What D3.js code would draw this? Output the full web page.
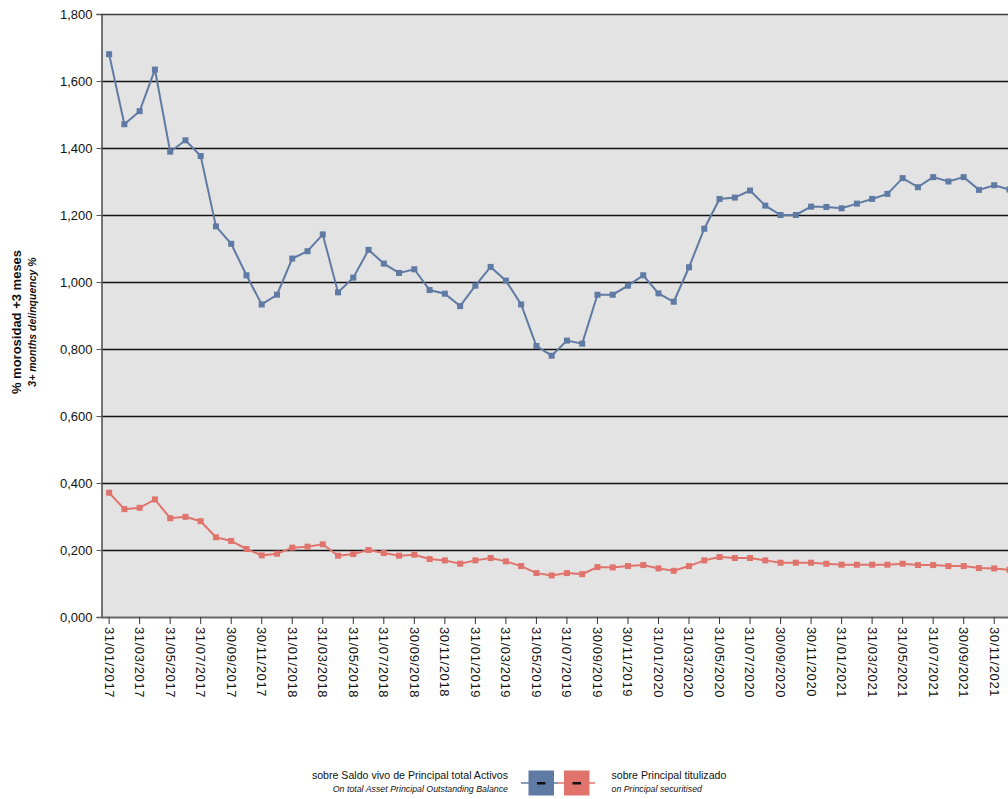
<!DOCTYPE html>
<html>
<head>
<meta charset="utf-8">
<script src="https://cdn.jsdelivr.net/npm/d3@7"></script>
<style>
  body { margin: 0; background: #fff; }
  svg { display: block; font-family: Arial, "Liberation Sans", sans-serif; }
</style>
</head>
<body>
<svg id="canvas" width="1008" height="799"></svg>
<script>
const svg = d3.select("#canvas");

// month-end dates (category axis)
const dates = [
  "31/01/2017","28/02/2017","31/03/2017","30/04/2017","31/05/2017","30/06/2017",
  "31/07/2017","31/08/2017","30/09/2017","31/10/2017","30/11/2017","31/12/2017",
  "31/01/2018","28/02/2018","31/03/2018","30/04/2018","31/05/2018","30/06/2018",
  "31/07/2018","31/08/2018","30/09/2018","31/10/2018","30/11/2018","31/12/2018",
  "31/01/2019","28/02/2019","31/03/2019","30/04/2019","31/05/2019","30/06/2019",
  "31/07/2019","31/08/2019","30/09/2019","31/10/2019","30/11/2019","31/12/2019",
  "31/01/2020","29/02/2020","31/03/2020","30/04/2020","31/05/2020","30/06/2020",
  "31/07/2020","31/08/2020","30/09/2020","31/10/2020","30/11/2020","31/12/2020",
  "31/01/2021","28/02/2021","31/03/2021","30/04/2021","31/05/2021","30/06/2021",
  "31/07/2021","31/08/2021","30/09/2021","31/10/2021","30/11/2021","31/12/2021"
];

// % delinquency on total asset principal outstanding balance
const totalAssets = [
  1.680, 1.471, 1.510, 1.634, 1.389, 1.423, 1.376, 1.166, 1.114, 1.020,
  0.933, 0.962, 1.070, 1.092, 1.142, 0.969, 1.013, 1.096, 1.055, 1.027,
  1.038, 0.976, 0.965, 0.928, 0.989, 1.045, 1.004, 0.933, 0.809, 0.780,
  0.825, 0.816, 0.962, 0.962, 0.989, 1.020, 0.966, 0.941, 1.044, 1.159,
  1.248, 1.252, 1.273, 1.228, 1.200, 1.200, 1.225, 1.224, 1.220, 1.234,
  1.248, 1.263, 1.310, 1.283, 1.313, 1.300, 1.313, 1.275, 1.289, 1.276
];

// % delinquency on principal securitised
const securitised = [
  0.371, 0.322, 0.326, 0.351, 0.295, 0.299, 0.286, 0.238, 0.227, 0.203,
  0.184, 0.189, 0.207, 0.210, 0.217, 0.183, 0.188, 0.200, 0.191, 0.183,
  0.186, 0.173, 0.169, 0.159, 0.169, 0.176, 0.166, 0.152, 0.131, 0.124,
  0.131, 0.128, 0.149, 0.148, 0.152, 0.155, 0.145, 0.138, 0.152, 0.169,
  0.179, 0.176, 0.176, 0.169, 0.162, 0.162, 0.162, 0.159, 0.156, 0.156,
  0.156, 0.156, 0.159, 0.155, 0.155, 0.152, 0.152, 0.146, 0.145, 0.141
];

const yTicks = [0, 0.2, 0.4, 0.6, 0.8, 1.0, 1.2, 1.4, 1.6, 1.8];

const BLUE = "#5f7aa3";
const RED = "#e0746d";

const plotLeft = 101.5, plotTop = 14, plotBottom = 617;
const step = 15.26;
const plotRight = plotLeft + step * dates.length;

svg.append("rect").attr("width", 1008).attr("height", 799).attr("fill", "#fff");

const x = d3.scaleBand().domain(dates).range([plotLeft, plotRight]);
const y = d3.scaleLinear().domain([0, 1.8]).range([plotBottom, plotTop]);
const cx = d => x(d) + x.bandwidth() / 2;

// plot background
svg.append("rect")
  .attr("x", plotLeft).attr("y", plotTop)
  .attr("width", plotRight - plotLeft).attr("height", plotBottom - plotTop)
  .attr("fill", "#e3e3e3");

// gridlines
svg.append("g")
  .selectAll("line")
  .data(yTicks.filter(t => t > 0))
  .join("line")
  .attr("x1", plotLeft).attr("x2", plotRight)
  .attr("y1", d => Math.round(y(d)) + 0.5).attr("y2", d => Math.round(y(d)) + 0.5)
  .attr("stroke", (d, i) => i === yTicks.length - 2 ? "#3a3a3a" : "#111")
  .attr("stroke-width", 1.3);

// y axis
const fmt = d => d3.format(".3f")(d).replace(".", ",");
const yAxis = svg.append("g")
  .attr("transform", `translate(${plotLeft},0)`)
  .call(d3.axisLeft(y).tickValues(yTicks).tickFormat(fmt).tickSize(5).tickPadding(4));
yAxis.select(".domain").attr("stroke", "#555").attr("stroke-width", 1.6);
yAxis.selectAll(".tick line").attr("stroke", "#555");
yAxis.selectAll("text")
  .attr("font-size", 13).attr("fill", "#111")
  .attr("font-family", "Arial, 'Liberation Sans', sans-serif");

// x axis
const xAxis = svg.append("g")
  .attr("transform", `translate(0,${plotBottom})`)
  .call(d3.axisBottom(x).tickValues(dates.filter((d, i) => i % 2 === 0)).tickSize(7).tickSizeOuter(0));
xAxis.select(".domain").attr("stroke", "#666").attr("stroke-width", 2);
xAxis.selectAll(".tick line").attr("stroke", "#333");
xAxis.selectAll("text")
  .attr("font-size", 13).attr("fill", "#111")
  .attr("letter-spacing", 0.6)
  .attr("font-family", "Arial, 'Liberation Sans', sans-serif")
  .attr("text-anchor", "start")
  .attr("transform", "rotate(90)")
  .attr("x", 10).attr("y", 0).attr("dy", "0.35em");

// y axis title
svg.append("text")
  .attr("transform", "translate(21,322) rotate(-90)")
  .attr("text-anchor", "middle")
  .attr("font-size", 13).attr("font-weight", "bold").attr("fill", "#111")
  .text("% morosidad +3 meses");
svg.append("text")
  .attr("transform", "translate(36,322) rotate(-90)")
  .attr("text-anchor", "middle")
  .attr("font-size", 10.5).attr("font-weight", "bold").attr("font-style", "italic").attr("fill", "#111")
  .text("3+ months delinquency %");

// series
const series = [
  { values: totalAssets, color: BLUE },
  { values: securitised, color: RED }
];
const line = d3.line().x((d, i) => cx(dates[i])).y(d => y(d));

series.forEach(s => {
  svg.append("path")
    .datum(s.values)
    .attr("fill", "none")
    .attr("stroke", s.color)
    .attr("stroke-width", 2)
    .attr("d", line);
  svg.append("g")
    .selectAll("rect")
    .data(s.values)
    .join("rect")
    .attr("x", (d, i) => cx(dates[i]) - 3)
    .attr("y", d => y(d) - 3)
    .attr("width", 6).attr("height", 6)
    .attr("fill", s.color);
});

// legend
const legend = svg.append("g");
legend.append("line")
  .attr("x1", 521).attr("x2", 558).attr("y1", 783).attr("y2", 783)
  .attr("stroke", BLUE).attr("stroke-width", 1.5);
legend.append("line")
  .attr("x1", 558).attr("x2", 595).attr("y1", 783).attr("y2", 783)
  .attr("stroke", RED).attr("stroke-width", 1.5);
[[528.5, BLUE], [564, RED]].forEach(([bx, c]) => {
  legend.append("rect")
    .attr("x", bx).attr("y", 770.5).attr("width", 25.5).attr("height", 25)
    .attr("fill", c);
  legend.append("rect")
    .attr("x", bx + 8.5).attr("y", 782).attr("width", 8.5).attr("height", 2.5)
    .attr("fill", "#111");
});
legend.append("text")
  .attr("x", 508).attr("y", 778.5).attr("text-anchor", "end")
  .attr("font-size", 10.6).attr("fill", "#111")
  .text("sobre Saldo vivo de Principal total Activos");
legend.append("text")
  .attr("x", 508).attr("y", 791.5).attr("text-anchor", "end")
  .attr("font-size", 8.8).attr("font-style", "italic").attr("fill", "#111")
  .text("On total Asset Principal Outstanding Balance");
legend.append("text")
  .attr("x", 611.5).attr("y", 778.5)
  .attr("font-size", 10.6).attr("fill", "#111")
  .text("sobre Principal titulizado");
legend.append("text")
  .attr("x", 611.5).attr("y", 791.5)
  .attr("font-size", 8.8).attr("font-style", "italic").attr("fill", "#111")
  .text("on Principal securitised");
</script>
</body>
</html>
